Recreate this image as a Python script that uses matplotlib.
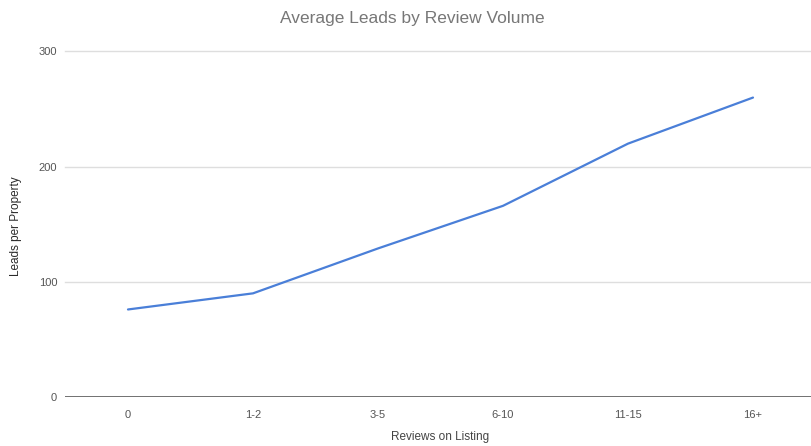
import matplotlib.pyplot as plt

# Data
review_buckets = ['0', '1-2', '3-5', '6-10', '11-15', '16+']
avg_leads = [76, 90, 129, 166, 220, 260]
y_ticks = [0, 100, 200, 300]

plt.rcParams['font.family'] = ['Liberation Sans', 'DejaVu Sans']

W, H = 812, 446
fig = plt.figure(figsize=(W / 100, H / 100), dpi=100)

# axes placed in pixel terms: x from 65.5 to right edge, y from 397 (0) up to 51.5 (300)
left, right = 65.5, W
bottom, top = 397, 51.5
ax = fig.add_axes([left / W, 1 - bottom / H, (right - left) / W, (bottom - top) / H])

x = range(len(review_buckets))
ax.plot(x, avg_leads, color='#4a7fd8', linewidth=1.6, solid_capstyle='round',
        solid_joinstyle='round', zorder=3)

ax.set_xlim(-0.5, -0.5 + (right - left) / 125)
ax.set_ylim(0, 300)
ax.set_xticks(list(x))
ax.set_xticklabels(review_buckets)
ax.set_yticks(y_ticks)

for y in y_ticks[1:]:
    ax.axhline(y, color='#dedede', linewidth=1.0, zorder=1, clip_on=False)
ax.axhline(0, color='#666666', linewidth=1.3, zorder=2)

for s in ax.spines.values():
    s.set_visible(False)
ax.tick_params(axis='both', length=0, labelsize=8, labelcolor='#555555')
ax.tick_params(axis='x', pad=9)
ax.tick_params(axis='y', pad=6)

fig.text(440 / W, 1 - 437 / H, 'Reviews on Listing', ha='center', va='center',
         fontsize=8.5, color='#444444')
fig.text(16 / W, 1 - 226 / H, 'Leads per Property', ha='center', va='center',
         rotation=90, fontsize=8.5, color='#2a2a2a')

fig.text(412 / W, 1 - 18 / H, 'Average Leads by Review Volume', ha='center', va='center',
         fontsize=12.5, color='#777777')

fig.savefig('out.png', dpi=100, facecolor='white')
